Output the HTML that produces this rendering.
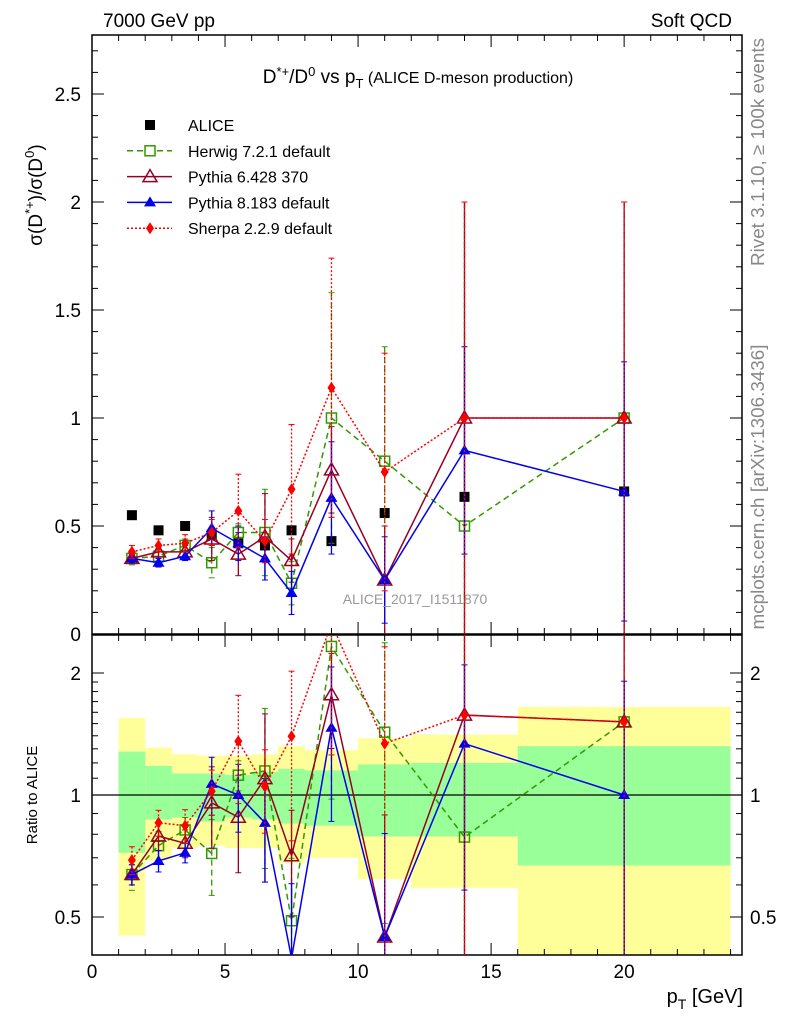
<!DOCTYPE html>
<html><head><meta charset="utf-8"><style>
html,body{margin:0;padding:0;background:#fff;}
svg{display:block;font-family:"Liberation Sans",sans-serif;}
</style></head><body>
<svg id="chart" width="786" height="1024" viewBox="0 0 786 1024" xmlns="http://www.w3.org/2000/svg">
<g id="bands"></g>
<g id="axes"></g>
<g id="series"></g>
<text x="103" y="27" font-size="19">7000 GeV pp</text>
<text x="732" y="27" font-size="19" text-anchor="end">Soft QCD</text>
<text x="418" y="83" font-size="19" text-anchor="middle">D<tspan dy="-7" font-size="13">*+</tspan><tspan dy="7">/D</tspan><tspan dy="-7" font-size="13">0</tspan><tspan dy="7"> vs p</tspan><tspan dy="5" font-size="13">T</tspan><tspan dy="-5" font-size="16"> (ALICE D-meson production)</tspan></text>
<text x="415" y="604" font-size="14" fill="#999" text-anchor="middle">ALICE_2017_I1511870</text>
<text transform="translate(764,152) rotate(-90)" font-size="18" fill="#888" text-anchor="middle" textLength="228" lengthAdjust="spacingAndGlyphs">Rivet 3.1.10, ≥ 100k events</text>
<text transform="translate(764,487) rotate(-90)" font-size="18" fill="#888" text-anchor="middle" textLength="285" lengthAdjust="spacingAndGlyphs">mcplots.cern.ch [arXiv:1306.3436]</text>
<text transform="translate(42,195) rotate(-90)" font-size="19" text-anchor="middle">σ(D<tspan dy="-8" font-size="13">*+</tspan><tspan dy="8">)/σ(D</tspan><tspan dy="-8" font-size="13">0</tspan><tspan dy="8">)</tspan></text>
<text transform="translate(37,795) rotate(-90)" font-size="15" text-anchor="middle">Ratio to ALICE</text>
<text x="743" y="1003" font-size="20" text-anchor="end">p<tspan dy="6" font-size="14">T</tspan><tspan dy="-6"> [GeV]</tspan></text>
<g id="legend"></g>
</svg>
<script>
const binEdges=[1,2,3,4,5,6,7,8,10,12,16,24];
const xCenters=[1.5,2.5,3.5,4.5,5.5,6.5,7.5,9,11,14,20];
const aliceVals=[0.55,0.48,0.50,0.46,0.42,0.41,0.48,0.43,0.56,0.635,0.66];
const herwigVals=[0.35,0.36,0.41,0.33,0.47,0.47,0.235,1.0,0.8,0.5,1.0];
const herwigErr=[0.03,0.03,0.03,0.07,0.04,0.2,0.1,0.58,0.53,1.5,1.0];
const py6Vals=[0.35,0.38,0.38,0.44,0.37,0.45,0.34,0.76,0.25,1.0,1.0];
const py6Err=[0.02,0.03,0.03,0.1,0.1,0.2,0.1,0.2,0.25,1.0,1.0];
const py8Vals=[0.35,0.33,0.36,0.49,0.42,0.35,0.19,0.63,0.25,0.85,0.66];
const py8Err=[0.02,0.02,0.02,0.08,0.08,0.1,0.1,0.26,0.2,0.48,0.6];
const sherpaVals=[0.38,0.41,0.42,0.47,0.57,0.43,0.67,1.14,0.75,1.0,1.0];
const sherpaErr=[0.03,0.03,0.04,0.06,0.17,0.1,0.3,0.6,0.55,1.0,1.0];
const totBandHi=[1.55,1.31,1.26,1.25,1.25,1.26,1.32,1.29,1.38,1.41,1.65];
const totBandLo=[0.45,0.69,0.74,0.75,0.74,0.74,0.68,0.70,0.62,0.59,0.38];
const statBandHi=[1.28,1.18,1.13,1.13,1.12,1.14,1.16,1.15,1.19,1.2,1.32];
const statBandLo=[0.72,0.87,0.88,0.86,0.88,0.87,0.85,0.84,0.79,0.79,0.67];
const mainYTicks=[0,0.5,1,1.5,2,2.5];
const mainYLabels=["0","0.5","1","1.5","2","2.5"];
const ratioYTicks=[0.5,1,2];
const ratioYLabels=["0.5","1","2"];
const xTicks=[0,5,10,15,20];
const xLabels=["0","5","10","15","20"];

const NS="http://www.w3.org/2000/svg";
const L=92,R=742,MT=35,MB=634,RT=635,RB=955;
const X0=0,X1=24.43;
const sx=v=>L+(v-X0)/(X1-X0)*(R-L);
const syM=v=>634-v*216;
const syR=r=>795-122*Math.log2(r);
const clampM=y=>Math.max(MT,Math.min(MB,y));
const clampR=y=>Math.max(RT,Math.min(RB,y));
function el(tag,attrs,parent){const e=document.createElementNS(NS,tag);for(const k in attrs)e.setAttribute(k,attrs[k]);parent.appendChild(e);return e;}
const axes=document.getElementById('axes'),bands=document.getElementById('bands'),series=document.getElementById('series'),legend=document.getElementById('legend');

for(let i=0;i<totBandHi.length;i++){
  const x=sx(binEdges[i]),w=sx(binEdges[i+1])-x;
  const a=clampR(syR(totBandHi[i])),b=clampR(syR(totBandLo[i]));
  const r1=el('rect',{x:x,y:a,width:w,height:b-a,fill:'#ffff99'},bands);
  
  
}
for(let i=0;i<statBandHi.length;i++){
  const x=sx(binEdges[i]),w=sx(binEdges[i+1])-x;
  const a=clampR(syR(statBandHi[i])),b=clampR(syR(statBandLo[i]));
  const r2=el('rect',{x:x,y:a,width:w,height:b-a,fill:'#99ff99'},bands);
  
  
}
el('rect',{x:L,y:MT,width:R-L,height:MB-MT,fill:'none',stroke:'#000','stroke-width':1.5},axes);
el('rect',{x:L,y:RT,width:R-L,height:RB-RT,fill:'none',stroke:'#000','stroke-width':1.5},axes);
el('line',{x1:L,x2:R,y1:syR(1),y2:syR(1),stroke:'#000','stroke-width':1.2},axes);
for(let v=0;v<=24;v++){
  const major=v%5===0,len=major?12:6,x=sx(v);
  [[MT,1],[MB,-1],[RT,1],[RB,-1]].forEach(([y,d])=>el('line',{x1:x,x2:x,y1:y,y2:y+d*len,stroke:'#000'},axes));
}
xTicks.forEach((v,i)=>{const t=el('text',{x:sx(v),y:978,'font-size':19,'text-anchor':'middle'},axes);t.textContent=xLabels[i];

});
for(let k=0;k<=27;k++){const v=k*0.1,y=syM(v);if(y<MT)continue;const len=k%5===0?12:6;
  el('line',{x1:L,x2:L+len,y1:y,y2:y,stroke:'#000'},axes);el('line',{x1:R,x2:R-len,y1:y,y2:y,stroke:'#000'},axes);}
mainYTicks.forEach((v,i)=>{const t=el('text',{x:81,y:syM(v)+7,'font-size':19,'text-anchor':'end'},axes);t.textContent=mainYLabels[i];

});
const rMinor=[0.5,0.6,0.7,0.8,0.9,1,1.1,1.2,1.3,1.4,1.5,1.6,1.7,1.8,1.9,2];
rMinor.forEach(r=>{const y=syR(r),len=(r===0.5||r===1||r===2)?12:6;
  el('line',{x1:L,x2:L+len,y1:y,y2:y,stroke:'#000'},axes);el('line',{x1:R,x2:R-len,y1:y,y2:y,stroke:'#000'},axes);});
ratioYTicks.forEach((v,i)=>{const t=el('text',{x:81,y:syR(v)+7,'font-size':19,'text-anchor':'end'},axes);t.textContent=ratioYLabels[i];


const t2=el('text',{x:750,y:syR(v)+7,'font-size':19},axes);t2.textContent=ratioYLabels[i];

});

function marker(g,type,x,y,color){
  if(type==='sqfill')el('rect',{x:x-5,y:y-5,width:10,height:10,fill:color},g);
  else if(type==='sqopen')el('rect',{x:x-5,y:y-5,width:10,height:10,fill:'none',stroke:color,'stroke-width':1.5},g);
  else if(type==='triopen')el('path',{d:`M${x},${y-7}L${x+7},${y+5}L${x-7},${y+5}Z`,fill:'none',stroke:color,'stroke-width':1.5},g);
  else if(type==='trifill')el('path',{d:`M${x},${y-6}L${x+6},${y+4}L${x-6},${y+4}Z`,fill:color},g);
  else if(type==='diamond')el('path',{d:`M${x},${y-6}L${x+4},${y}L${x},${y+6}L${x-4},${y}Z`,fill:color},g);
}
const specs=[
 {name:'herwig',vals:herwigVals,err:herwigErr,color:'#339900',dash:'6,4',m:'sqopen',label:'Herwig 7.2.1 default'},
 {name:'pythia6',vals:py6Vals,err:py6Err,color:'#990022',dash:'',m:'triopen',label:'Pythia 6.428 370'},
 {name:'pythia8',vals:py8Vals,err:py8Err,color:'#0000ee',dash:'',m:'trifill',label:'Pythia 8.183 default'},
 {name:'sherpa',vals:sherpaVals,err:sherpaErr,color:'#ff0000',dash:'2,2',m:'diamond',label:'Sherpa 2.2.9 default'}
];
const ga=el('g',{},series);


aliceVals.forEach((v,i)=>{marker(ga,'sqfill',sx(xCenters[i]),syM(v),'#000');});

specs.forEach(s=>{
  ['main','ratio'].forEach((panel,pi)=>{
    const g=el('g',{},series);
    
    
    const yv=i=>pi===0?syM(s.vals[i]):syR(s.vals[i]/aliceVals[i]);
    const ye=(i,sg)=>{const v=s.vals[i]+sg*s.err[i];if(pi===0)return clampM(syM(v));return v<=0?RB:clampR(syR(v/aliceVals[i]));};
    s.vals.forEach((v,i)=>{const x=sx(xCenters[i]);const a=ye(i,1),b=ye(i,-1);
      el('line',{x1:x,x2:x,y1:a,y2:b,stroke:s.color,'stroke-width':1.3,'stroke-dasharray':s.dash},g);
      [a,b].forEach(y=>{if(y>(pi?RT:MT)+1&&y<(pi?RB:MB)-1)el('line',{x1:x-3,x2:x+3,y1:y,y2:y,stroke:s.color},g);});});
    const cid='clip'+s.name+panel;
    const cp=el('clipPath',{id:cid},g);el('rect',{x:L,y:pi?RT:MT,width:R-L,height:pi?RB-RT:MB-MT},cp);
    const pts=s.vals.map((v,i)=>sx(xCenters[i])+','+yv(i)).join(' ');
    el('polyline',{points:pts,fill:'none',stroke:s.color,'stroke-width':1.5,'stroke-dasharray':s.dash,'clip-path':`url(#${cid})`},g);
    const mg=el('g',{'clip-path':`url(#${cid})`},g);
    s.vals.forEach((v,i)=>marker(mg,s.m,sx(xCenters[i]),yv(i),s.color));
  });
});
const lrows=[{m:'sqfill',color:'#000',dash:null,label:'ALICE'}].concat(specs.map(s=>({m:s.m,color:s.color,dash:s.dash,label:s.label})));
lrows.forEach((r,i)=>{const y=125+i*25.8;
  const g=el('g',{},legend);
  
  
  if(r.dash!==null)el('line',{x1:127,x2:172,y1:y,y2:y,stroke:r.color,'stroke-width':1.5,'stroke-dasharray':r.dash},g);
  if(r.m==='sqopen')el('rect',{x:145,y:y-5,width:10,height:10,fill:'#fff',stroke:r.color,'stroke-width':1.5},g);
  else marker(g,r.m,150,y,r.color);
  const t=el('text',{x:188,y:y+6,'font-size':16},g);t.textContent=r.label;});
</script>
</body></html>
